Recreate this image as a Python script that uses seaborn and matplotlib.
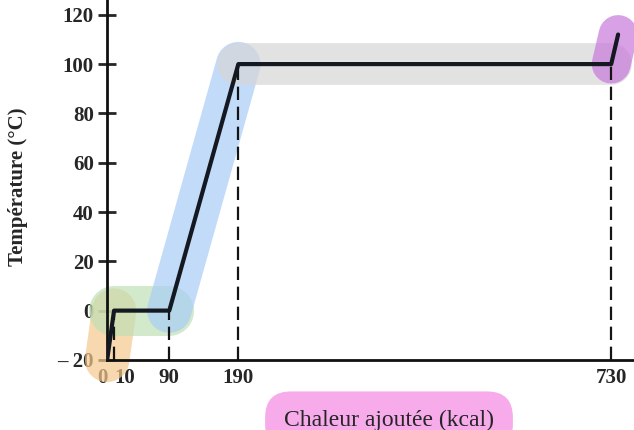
import matplotlib
matplotlib.use('Agg')
import matplotlib.pyplot as plt
import seaborn as sns
import pandas as pd

sns.set_style('ticks')
plt.rcParams['font.family'] = ['Liberation Serif', 'DejaVu Serif']

# courbe de chauffage de 1 kg de glace
chaleur = [0, 10, 90, 190, 730, 740]
temperature = [-20, 0, 0, 100, 100, 112]

x_ticks = [0, 10, 90, 190, 730]
x_labels = ['0', '10', '90', '190', '730']
y_ticks = [-20, 0, 20, 40, 60, 80, 100, 120]
y_labels = ['– 20', '0', '20', '40', '60', '80', '100', '120']

# surlignages (segment de début, segment de fin, couleur, épaisseur)
surlignage_segments = [(0, 2, '#f6c88c', 32), (1, 3, '#bfe0b5', 36), (2, 4, '#a9cdf7', 32),
                       (3, 5, '#d6d6d6', 30), (4, 6, '#c879dc', 28)]

df = pd.DataFrame({'chaleur': chaleur, 'temperature': temperature})

fig = plt.figure(figsize=(6.34, 4.30), dpi=100)
ax = fig.add_axes([0.169, 0.163, 0.831, 0.837])

for i0, i1, c, w in surlignage_segments:
    ax.plot(chaleur[i0:i1], temperature[i0:i1], color=c, lw=w, alpha=0.7,
            solid_capstyle='round', zorder=1, clip_on=False)

sns.lineplot(data=df, x='chaleur', y='temperature', sort=False, color='#141820',
             lw=3, ax=ax, zorder=3)

# pointillés verticaux vers l'axe
for x, y in zip(chaleur[1:5], temperature[1:5]):
    ax.plot([x, x], [-20, y], color='#141414', lw=1.6, ls=(0, (6, 3)), zorder=2)

ax.set_xlim(0, 763)
ax.set_ylim(-20, 126)
sns.despine(ax=ax)
for s in ['left', 'bottom']:
    ax.spines[s].set_linewidth(2)
    ax.spines[s].set_color('#111111')

ax.set_yticks(y_ticks)
ax.set_yticklabels(y_labels, fontsize=15, fontweight='bold')
ax.tick_params(axis='y', direction='inout', length=13, width=2, pad=3)
ax.set_xticks(x_ticks)
ax.set_xticklabels(x_labels, fontsize=15, fontweight='bold')
ax.tick_params(axis='x', length=0, pad=6)
lbls = ax.get_xticklabels()
lbls[0].set_ha('right')
lbls[1].set_ha('left')

ax.set_ylabel('Température (°C)', fontsize=15, fontweight='bold')
ax.yaxis.set_label_coords(-0.15, 0.48)
ax.set_xlabel('Chaleur ajoutée (kcal)', fontsize=17,
              bbox=dict(boxstyle='round,pad=0.8,rounding_size=1.1', fc='#f7abea', ec='none'))
ax.xaxis.set_label_coords(0.535, -0.14)

fig.savefig('out.png', dpi=100)
